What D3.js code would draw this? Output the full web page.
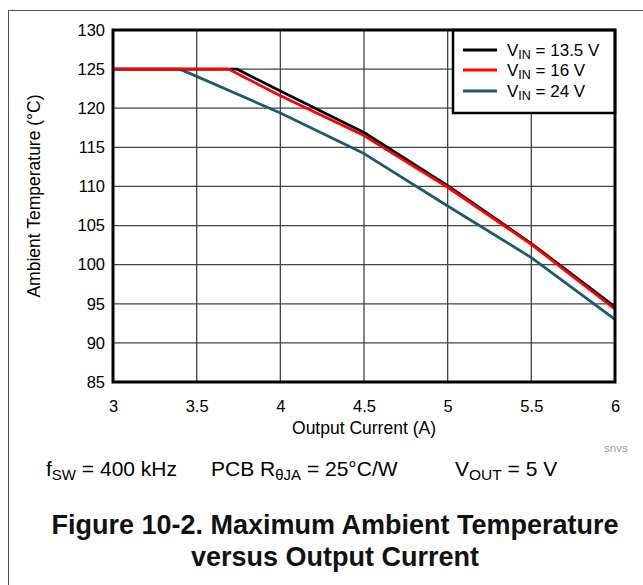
<!DOCTYPE html>
<html><head><meta charset="utf-8">
<script src="https://cdn.jsdelivr.net/npm/d3@7"></script>
<style>
html,body{margin:0;padding:0;background:#fff;}
svg{display:block;font-family:"Liberation Sans",Arial,Helvetica,sans-serif;}
</style></head>
<body>
<svg id="chart" width="643" height="585"></svg>
<script>
const xTicks = [3, 3.5, 4, 4.5, 5, 5.5, 6];
const yTicks = [85, 90, 95, 100, 105, 110, 115, 120, 125, 130];
const seriesNames = ["13.5", "16", "24"];
const seriesColors = ["#000000", "#ff0000", "#1d5b6b"];
const vin135 = [[3,125],[3.74,125],[4.0,122.2],[4.5,116.9],[5.0,110.1],[5.5,102.7],[6.0,94.6]];
const vin16  = [[3,125],[3.69,125],[4.0,121.6],[4.5,116.5],[5.0,109.9],[5.5,102.6],[6.0,94.3]];
const vin24  = [[3,125],[3.4,125],[4.0,119.4],[4.5,114.2],[5.0,107.5],[5.5,100.9],[6.0,93.0]];
const seriesData = [vin135, vin16, vin24];

const svg = d3.select("#chart");
const L = 113, R = 615, T = 30, B = 382;
const x = d3.scaleLinear().domain([3, 6]).range([L, R]);
const y = d3.scaleLinear().domain([85, 130]).range([B, T]);

// outer frame
svg.append("rect").attr("x", 8.5).attr("y", 10.5).attr("width", 700).attr("height", 700)
  .attr("fill", "none").attr("stroke", "#555").attr("stroke-width", 1);

// gridlines
svg.append("g").selectAll("line").data(xTicks.slice(1, -1)).join("line")
  .attr("x1", d => x(d)).attr("x2", d => x(d)).attr("y1", T).attr("y2", B)
  .attr("stroke", "#444").attr("stroke-width", 1.3);
svg.append("g").selectAll("line").data(yTicks.slice(1, -1)).join("line")
  .attr("x1", L).attr("x2", R).attr("y1", d => y(d)).attr("y2", d => y(d))
  .attr("stroke", "#444").attr("stroke-width", 1.3);

// series
const line = d3.line().x(d => x(d[0])).y(d => y(d[1]));
const order = [2, 0, 1];
svg.append("g").selectAll("path").data(order).join("path")
  .attr("d", i => line(seriesData[i]))
  .attr("fill", "none").attr("stroke", i => seriesColors[i])
  .attr("stroke-width", 2.8).attr("stroke-linejoin", "round");

// legend
const lg = svg.append("g");
lg.append("rect").attr("x", 453).attr("y", T).attr("width", R - 453).attr("height", 83)
  .attr("fill", "#fff").attr("stroke", "#000").attr("stroke-width", 2.5);
const lgY = [50, 70, 91];
seriesNames.forEach((n, i) => {
  lg.append("line").attr("x1", 463).attr("x2", 497).attr("y1", lgY[i]).attr("y2", lgY[i])
    .attr("stroke", seriesColors[i]).attr("stroke-width", 3);
  const t = lg.append("text").attr("x", 507).attr("y", lgY[i] + 6).attr("font-size", 17).attr("fill", "#000");
  t.append("tspan").text("V");
  t.append("tspan").attr("font-size", 12.5).attr("dy", 3).text("IN");
  t.append("tspan").attr("dy", -3).text(" = " + n + " V");
});

// plot frame
svg.append("rect").attr("x", L).attr("y", T).attr("width", R - L).attr("height", B - T)
  .attr("fill", "none").attr("stroke", "#000").attr("stroke-width", 3);

// axes labels
const xAxis = d3.axisBottom(x).tickValues(xTicks).tickSize(0).tickPadding(0).tickFormat(d3.format("~g"));
const gx = svg.append("g").attr("transform", `translate(0,${B + 25})`).call(xAxis);
gx.select(".domain").remove();
gx.selectAll("text").attr("font-size", 16.5).attr("font-family", "Liberation Sans, Arial, sans-serif").attr("fill", "#000").attr("dy", "0.32em");

const yAxis = d3.axisLeft(y).tickValues(yTicks).tickSize(0).tickPadding(0);
const gy = svg.append("g").attr("transform", `translate(${L - 8},0)`).call(yAxis);
gy.select(".domain").remove();
gy.selectAll("text").attr("font-size", 16.5).attr("font-family", "Liberation Sans, Arial, sans-serif").attr("fill", "#000");

svg.append("text").attr("x", (L + R) / 2 + 0).attr("y", 434).attr("text-anchor", "middle")
  .attr("font-size", 17.5).text("Output Current (A)");
svg.append("text").attr("transform", `translate(40,196) rotate(-90)`)
  .attr("text-anchor", "middle").attr("font-size", 17.5).text("Ambient Temperature  (°C)");

svg.append("text").attr("x", 604).attr("y", 452).attr("font-size", 11.5).attr("fill", "#999").text("snvs");

// conditions
const c = svg.append("text").attr("y", 476).attr("font-size", 21).attr("fill", "#000");
c.append("tspan").attr("x", 46).text("f");
c.append("tspan").attr("font-size", 15).attr("dy", 4).text("SW");
c.append("tspan").attr("dy", -4).text(" = 400 kHz");
c.append("tspan").attr("x", 211).text("PCB R");
c.append("tspan").attr("font-size", 15).attr("dy", 4).text("θJA");
c.append("tspan").attr("dy", -4).text(" = 25°C/W");
c.append("tspan").attr("x", 455).text("V");
c.append("tspan").attr("font-size", 15.5).attr("dy", 4).text("OUT");
c.append("tspan").attr("dy", -4).text(" = 5 V");

// title
const titleLines = ["Figure 10-2. Maximum Ambient Temperature", "versus Output Current"];
svg.append("g").selectAll("text").data(titleLines).join("text")
  .attr("x", 335).attr("y", (d, i) => 534 + i * 32).attr("text-anchor", "middle")
  .attr("font-size", 27).attr("font-weight", "bold").attr("fill", "#111").text(d => d);
</script>
</body></html>
